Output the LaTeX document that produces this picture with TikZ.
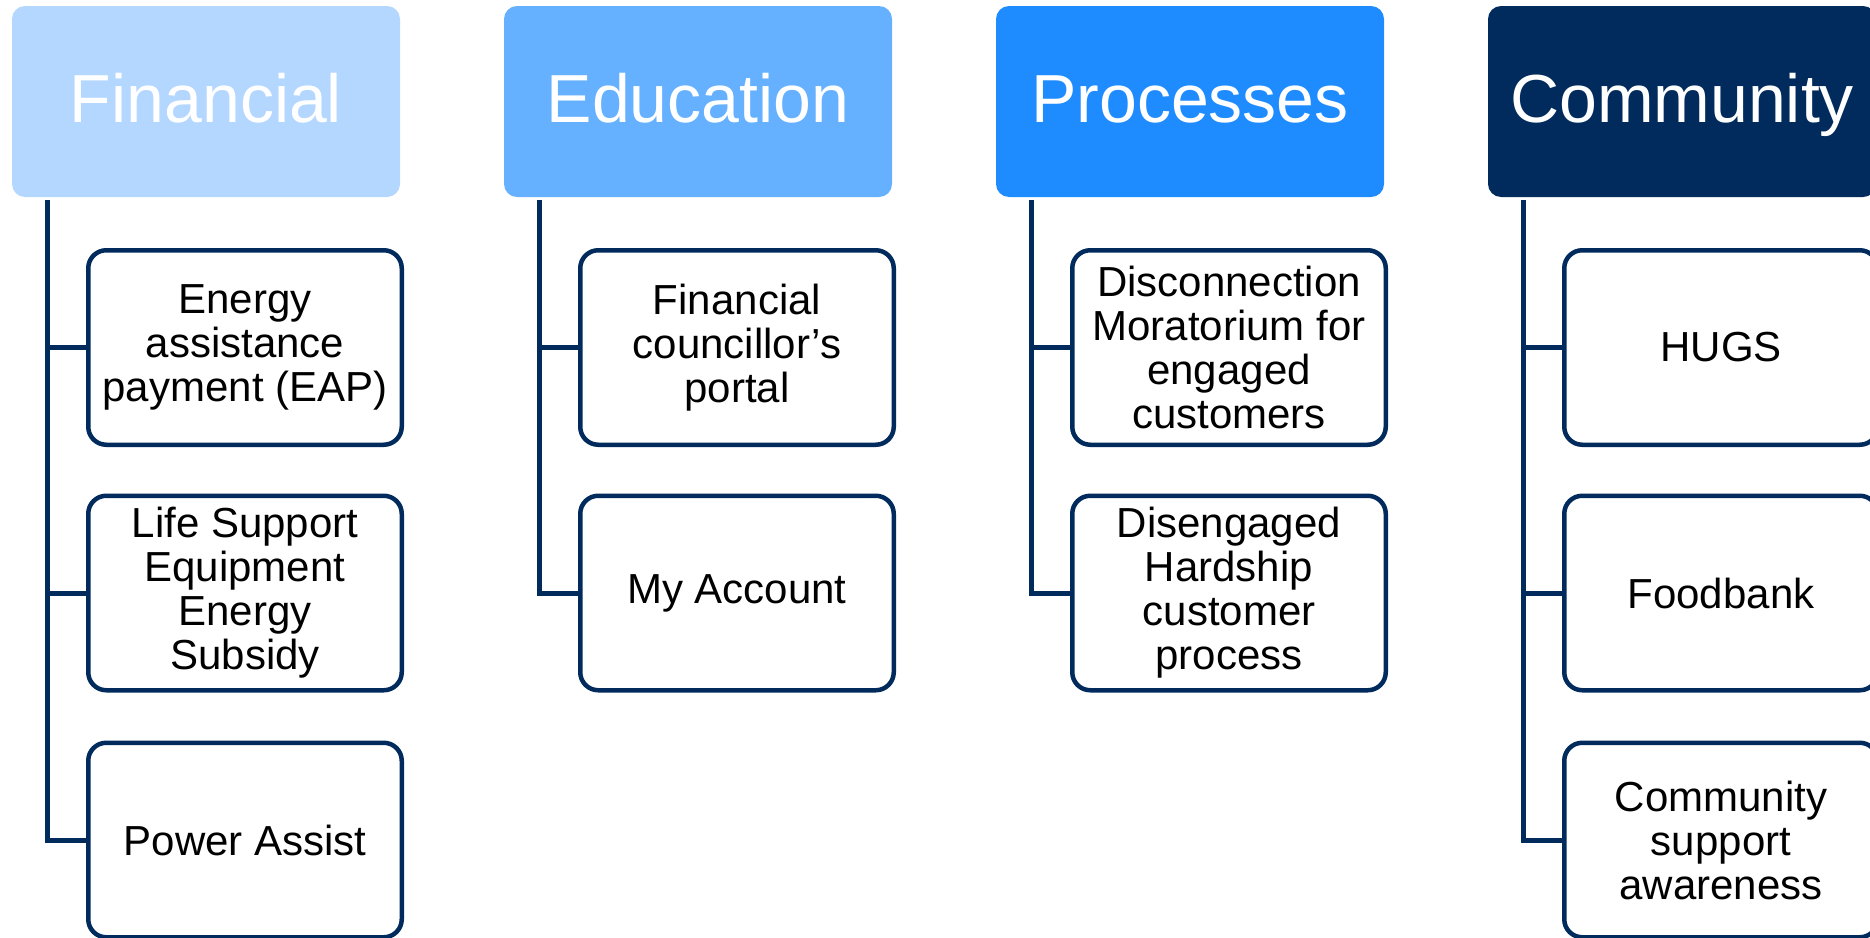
\documentclass[tikz,border=0pt]{standalone}
\usepackage{fontspec}
\setmainfont{Liberation Sans}
\definecolor{navy}{HTML}{002B5C}
\definecolor{hfin}{HTML}{B3D7FF}
\definecolor{hedu}{HTML}{66B1FF}
\definecolor{hpro}{HTML}{1E8CFF}
\definecolor{hcom}{HTML}{002B5C}
\begin{document}
\begin{tikzpicture}[x=1pt,y=-1pt,
  hdr/.style={rounded corners=13pt, minimum width=388pt, minimum height=191pt,
    inner sep=0pt, text=white, font=\fontsize{68}{80}\selectfont,
    text height=49pt, text depth=8pt},
  item/.style={draw=navy, line width=4.5pt, fill=white, rounded corners=18pt,
    minimum width=313.5pt, minimum height=194.5pt, inner sep=0pt,
    align=center, font=\fontsize{42}{44}\selectfont},
  link/.style={draw=navy, line width=5pt}]
\useasboundingbox (0,0) rectangle (1870,937);

% Financial
\node[hdr, fill=hfin] (hf) at (206,101.5) {Financial};
\node[item] (f1) at (245,347.5) {Energy\\assistance\\payment (EAP)};
\node[item] (f2) at (245,593) {Life Support\\Equipment\\Energy\\Subsidy};
\node[item] (f3) at (245,840) {Power Assist};

% Education
\node[hdr, fill=hedu] (he) at (698,101.5) {Education};
\node[item] (e1) at (737,347.5) {Financial\\councillor’s\\portal};
\node[item] (e2) at (737,593) {My Account};

% Processes
\node[hdr, fill=hpro] (hp) at (1190,101.5) {Processes};
\node[item] (p1) at (1229,347.5) {Disconnection\\Moratorium for\\engaged\\customers};
\node[item] (p2) at (1229,593) {Disengaged\\Hardship\\customer\\process};

% Community
\node[hdr, fill=hcom] (hc) at (1682,101.5) {Community};
\node[item] (c1) at (1721,347.5) {HUGS};
\node[item] (c2) at (1721,593) {Foodbank};
\node[item] (c3) at (1721,840) {Community\\support\\awareness};

% tree connectors
\foreach \h/\k in {hf/f1,hf/f2,hf/f3,he/e1,he/e2,hp/p1,hp/p2,hc/c1,hc/c2,hc/c3}
  \draw[link] ([xshift=36pt,yshift=-3pt]\h.south west) |- (\k.west);
\end{tikzpicture}
\end{document}
